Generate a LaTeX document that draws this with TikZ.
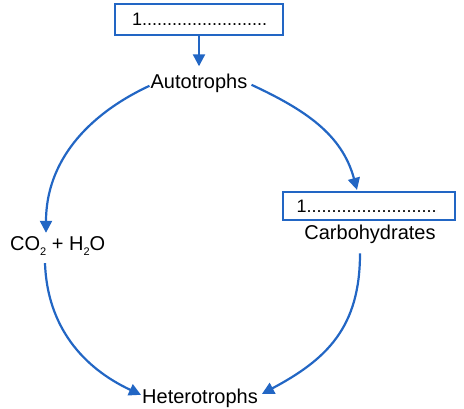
\documentclass[tikz,border=0pt]{standalone}
\usepackage{fontspec}
\setmainfont{Liberation Sans}
\usetikzlibrary{arrows.meta}
\definecolor{cycblue}{RGB}{34,102,196}
\tikzset{
  lbl/.style={inner sep=0pt, font=\fontsize{20}{24}\selectfont, text=black},
  blank/.style={draw=cycblue, line width=2.2pt, inner ysep=0pt, inner xsep=0pt,
     align=left, font=\fontsize{18}{22}\selectfont, text=black},
  flow/.style={draw=cycblue, line width=2.2pt, -{Triangle[length=12pt,width=12pt]}}
}
\newcommand{\subtwo}{\raisebox{-0.3em}{\fontsize{11}{11}\selectfont 2}}
\begin{document}
\begin{tikzpicture}[x=1pt,y=1pt]
\useasboundingbox (0,0) rectangle (464,408);
% top blank box
\node[blank, minimum width=168pt, minimum height=31pt, text width=134pt, inner xsep=17pt]
  (b1) at (199,388.5) {1.........................};
% right blank box
\node[blank, minimum width=172pt, minimum height=28pt, text width=145pt, inner xsep=13.5pt]
  (b2) at (369,202) {1..........................};
% labels
\node[lbl, anchor=base] (auto) at (199,319) {Autotrophs};
\node[lbl, anchor=base] (carb) at (370,168) {Carbohydrates};
\node[lbl, anchor=base west] (co2) at (10,158) {CO\subtwo{} + H\subtwo O};
\node[lbl, anchor=base] (het) at (200,5) {Heterotrophs};
% connectors
\draw[flow] (b1.south) -- ([yshift=8pt]auto.north);
\draw[flow] ([xshift=-1pt,yshift=-2pt]auto.west) to[out=205,in=90]
  ([shift={(36pt,3pt)}]co2.north west);
\draw[flow] ([xshift=4pt,yshift=-1pt]auto.east) to[out=-25,in=105]
  ([xshift=-12pt,yshift=1pt]b2.north);
\draw[flow] ([shift={(35pt,-7pt)}]co2.south west) to[out=-88,in=155]
  ([xshift=-1pt,yshift=3pt]het.west);
\draw[flow] ([shift={(-10pt,-9pt)}]carb.south) to[out=-90,in=28,looseness=1.1]
  ([xshift=4pt,yshift=4pt]het.east);
\end{tikzpicture}
\end{document}
